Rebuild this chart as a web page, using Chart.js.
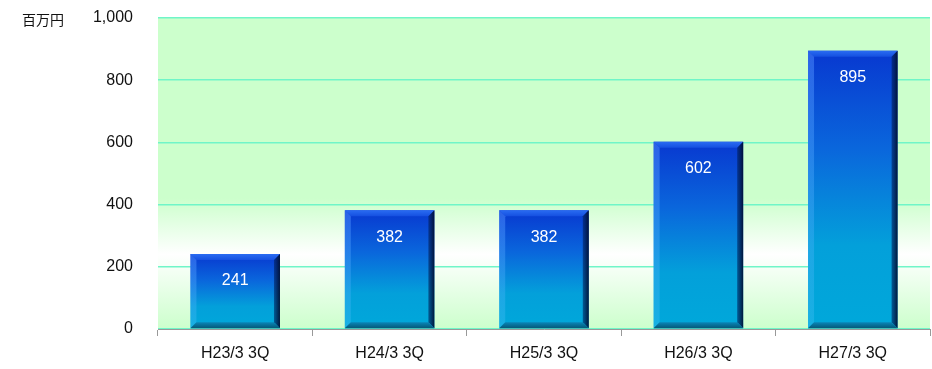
<!DOCTYPE html>
<html>
<head>
<meta charset="utf-8">
<script src="https://cdn.jsdelivr.net/npm/chart.js@4/dist/chart.umd.min.js"></script>
<style>
  html, body { margin: 0; padding: 0; background: #ffffff; }
  #wrap { position: relative; width: 932px; height: 369px; }
  #unit { position: absolute; left: 22px; top: 10px; font: 14px/18px "Noto Sans CJK JP", sans-serif; color: #111; }
</style>
</head>
<body>
<div id="wrap">
  <canvas id="c" width="932" height="369"></canvas>
  <div id="unit">百万円</div>
</div>
<script>
// Quarterly figures (millions of yen)
const categories = ["H23/3 3Q", "H24/3 3Q", "H25/3 3Q", "H26/3 3Q", "H27/3 3Q"];
const values = [241, 382, 382, 602, 895];
const yTicks = [0, 200, 400, 600, 800, 1000];

const FONT = "'Liberation Sans', Arial, sans-serif";

// Pale green plot background that whitens just above the baseline
const plotBackground = {
  id: "plotBackground",
  beforeDraw(chart) {
    const { ctx, chartArea: a } = chart;
    const g = ctx.createLinearGradient(0, a.top, 0, a.bottom);
    g.addColorStop(0, "#ccffcc");
    g.addColorStop(0.58, "#ccffcc");
    g.addColorStop(0.76, "#ffffff");
    g.addColorStop(1, "#ccffcc");
    ctx.save();
    ctx.fillStyle = g;
    ctx.fillRect(a.left, a.top, a.right - a.left, a.bottom - a.top);
    ctx.restore();
  }
};

// Bevelled edges and value labels on each bar
const barBevel = {
  id: "barBevel",
  afterDatasetsDraw(chart) {
    const { ctx } = chart;
    const meta = chart.getDatasetMeta(0);
    const b = 6;
    ctx.save();
    meta.data.forEach((bar, i) => {
      const l = bar.x - bar.width / 2, r = bar.x + bar.width / 2;
      const t = bar.y, btm = bar.base;
      // top
      let g = ctx.createLinearGradient(0, t, 0, t + b);
      g.addColorStop(0, "#2a6cf2");
      g.addColorStop(1, "#1550e0");
      ctx.fillStyle = g;
      ctx.beginPath();
      ctx.moveTo(l, t); ctx.lineTo(r, t); ctx.lineTo(r - b, t + b); ctx.lineTo(l + b, t + b); ctx.closePath();
      ctx.fill();
      // left
      g = ctx.createLinearGradient(0, t, 0, btm);
      g.addColorStop(0, "rgba(80,140,255,0.5)");
      g.addColorStop(1, "rgba(60,190,240,0.4)");
      ctx.fillStyle = g;
      ctx.beginPath();
      ctx.moveTo(l, t); ctx.lineTo(l + b, t + b); ctx.lineTo(l + b, btm - b); ctx.lineTo(l, btm); ctx.closePath();
      ctx.fill();
      // right
      g = ctx.createLinearGradient(r - b, 0, r, 0);
      g.addColorStop(0, "rgba(0,30,90,0.55)");
      g.addColorStop(1, "rgba(0,15,50,0.95)");
      ctx.fillStyle = g;
      ctx.beginPath();
      ctx.moveTo(r, t); ctx.lineTo(r, btm); ctx.lineTo(r - b, btm - b); ctx.lineTo(r - b, t + b); ctx.closePath();
      ctx.fill();
      // bottom
      g = ctx.createLinearGradient(0, btm - b, 0, btm);
      g.addColorStop(0, "#0a86b8");
      g.addColorStop(1, "#035878");
      ctx.fillStyle = g;
      ctx.beginPath();
      ctx.moveTo(l, btm); ctx.lineTo(l + b, btm - b); ctx.lineTo(r - b, btm - b); ctx.lineTo(r, btm); ctx.closePath();
      ctx.fill();
      // value label
      ctx.fillStyle = "#ffffff";
      ctx.font = "16px " + FONT;
      ctx.textAlign = "center";
      ctx.textBaseline = "middle";
      ctx.fillText(String(values[i]), bar.x, t + 27);
    });
    ctx.restore();
  }
};

function barFill(context) {
  const chart = context.chart;
  const y = chart.scales && chart.scales.y;
  if (!chart.chartArea || !y) return "#0a70d8";
  const top = y.getPixelForValue(values[context.dataIndex]);
  const base = y.getPixelForValue(0);
  const g = chart.ctx.createLinearGradient(0, top, 0, base);
  g.addColorStop(0, "#0838d0");
  g.addColorStop(0.35, "#0a66dc");
  g.addColorStop(0.7, "#03a0da");
  g.addColorStop(1, "#00a8da");
  return g;
}

new Chart(document.getElementById("c"), {
  type: "bar",
  data: {
    labels: categories,
    datasets: [{
      data: values,
      backgroundColor: barFill,
      borderWidth: 0,
      categoryPercentage: 0.58,
      barPercentage: 1.0
    }]
  },
  options: {
    responsive: false,
    animation: false,
    devicePixelRatio: 1,
    layout: { padding: { top: 18, right: 2, left: 0, bottom: 0 } },
    plugins: { legend: { display: false }, tooltip: { enabled: false } },
    scales: {
      x: {
        offset: true,
        afterFit(scale) { scale.height = 40; scale.paddingLeft = 0; scale.paddingRight = 0; },
        grid: { display: true, offset: true, drawOnChartArea: false, drawTicks: true, tickLength: 7, color: "#999999", lineWidth: 1 },
        border: { display: true, color: "#999999", width: 1 },
        ticks: { color: "#111111", font: { family: FONT, size: 16 }, padding: 8, maxRotation: 0 }
      },
      y: {
        min: 0,
        max: 1000,
        afterFit(scale) { scale.width = 158; scale.paddingTop = 0; scale.paddingBottom = 0; },
        afterBuildTicks(scale) { scale.ticks = yTicks.map(v => ({ value: v })); },
        grid: { color: "#70f5c8", lineWidth: 1.5, drawTicks: false },
        border: { display: false },
        ticks: {
          color: "#111111",
          font: { family: FONT, size: 16 },
          padding: 25,
          callback: v => v.toLocaleString("en-US")
        }
      }
    }
  },
  plugins: [plotBackground, barBevel]
});
</script>
</body>
</html>
